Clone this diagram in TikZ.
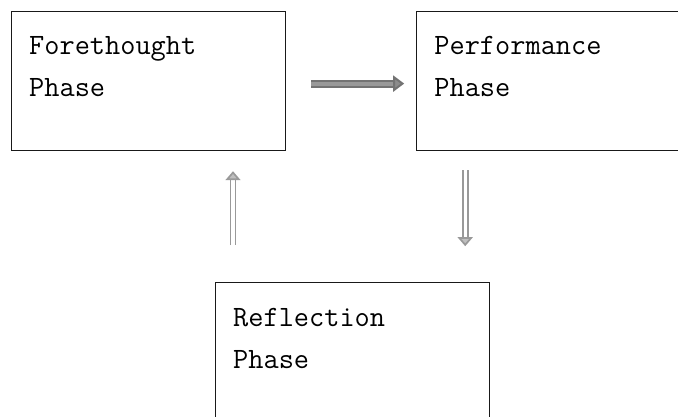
\documentclass[tikz,border=0pt]{standalone}
\usepackage{fontspec}
\usetikzlibrary{positioning,arrows.meta,calc}
\tikzstyle{phasebox}=[rectangle, draw=black!90, line width=1.2pt, minimum width=274pt, minimum height=139pt, inner sep=0pt]
\tikzstyle{phasetext}=[font=\ttfamily\fontsize{29.5}{42}\selectfont, align=left, anchor=base west, inner sep=0pt]
\tikzstyle{harrow}=[draw=black!55, double=black!40, line width=2pt, double distance=4pt, -{Triangle[length=11pt, width=16pt, fill=black!45]}]
\tikzstyle{varrow}=[draw=black!40, double=white, line width=1.7pt, double distance=3.2pt, -{Triangle[length=9pt, width=15pt, fill=black!25]}]

\begin{document}
\begin{tikzpicture}[x=1pt, y=1pt]
    \useasboundingbox (0,0) rectangle (678,-417);
    \clip (0,0) rectangle (678,-417);

% phase boxes
    \node (fore) [phasebox, anchor=north west] at (11,-11) {};
    \node (perf) [phasebox, right=130pt of fore] {};
    \node (refl) [phasebox, below=131pt of fore.south west, anchor=north west, xshift=204pt] {};

% box texts (base = last line)
    \node (foretext) [phasetext] at ([shift={(18pt,-86pt)}]fore.north west) {Forethought\\Phase};
    \node (perftext) [phasetext] at ([shift={(18pt,-86pt)}]perf.north west) {Performance\\Phase};
    \node (refltext) [phasetext] at ([shift={(18pt,-86pt)}]refl.north west) {Reflection\\Phase};

% cycle arrows
    \draw[harrow, shorten <=25pt, shorten >=12pt] ([yshift=-2.5pt]fore.east) -- ([yshift=-2.5pt]perf.west);

    \coordinate (upfoot) at ([xshift=18pt]refl.north west);
    \draw[varrow, shorten <=37pt, shorten >=20pt] (upfoot) -- (upfoot |- fore.south);

    \coordinate (downtop) at ([xshift=49pt]perf.south west);
    \draw[varrow, shorten <=19pt, shorten >=36pt] (downtop) -- (downtop |- refl.north);

\end{tikzpicture}
\end{document}
